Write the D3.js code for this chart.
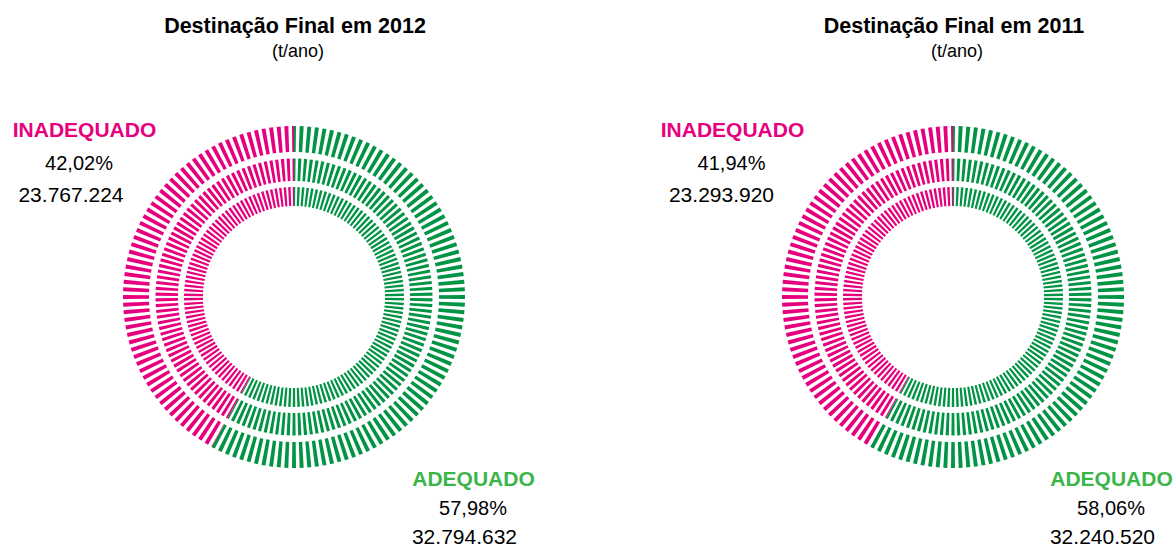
<!DOCTYPE html>
<html>
<head>
<meta charset="utf-8">
<script src="https://cdn.jsdelivr.net/npm/d3@7"></script>
<style>
  html, body { margin: 0; padding: 0; background: #ffffff; }
  svg { display: block; font-family: "Liberation Sans", Arial, Helvetica, sans-serif; }
</style>
</head>
<body>
<svg id="chart" width="1173" height="547"></svg>
<script>
// ---- data ----
const years = ["2012", "2011"];
const categories = ["ADEQUADO", "INADEQUADO"];
const adequadoTons = [32794632, 32240520];
const inadequadoTons = [23767224, 23293920];
const adequadoPct = [57.98, 58.06];
const inadequadoPct = [42.02, 41.94];
const ticksPerRing = [150, 150, 140];

// ---- style / layout ----
const colorScale = d3.scaleOrdinal().domain(categories).range(["#009444", "#e6007e"]);
const labelColor = d3.scaleOrdinal().domain(categories).range(["#3bb54a", "#e6007e"]);
const centersX = [294, 953];
const centerY = 297;
const rings = [
  { inner: 91, outer: 110, duty: 0.55 },
  { inner: 116, outer: 138.5, duty: 0.55 },
  { inner: 145, outer: 171, duty: 0.52 }
];

const pt = d3.formatLocale({ decimal: ",", thousands: ".", grouping: [3], currency: ["R$", ""] });
const fmtInt = pt.format(",d");
const fmtPct = pt.format(".2f");

const svg = d3.select("#chart");
const defs = svg.append("defs");

const pie = d3.pie().sort(null).startAngle(0).endAngle(2 * Math.PI);

years.forEach((yr, k) => {
  const cx = centersX[k];
  const g = svg.append("g").attr("transform", `translate(${cx},${centerY})`);

  // mask of radial ticks
  const mask = defs.append("mask").attr("id", "ticks" + k)
    .attr("maskUnits", "userSpaceOnUse")
    .attr("x", -300).attr("y", -300).attr("width", 600).attr("height", 600);
  rings.forEach((r, ri) => {
    const n = ticksPerRing[ri];
    const angle = d3.scaleLinear().domain([0, n]).range([0, 2 * Math.PI]);
    const half = (angle(1) - angle(0)) * r.duty / 2;
    const tickArc = d3.arc().innerRadius(r.inner).outerRadius(r.outer);
    mask.append("g").selectAll("path")
      .data(d3.range(n))
      .join("path")
      .attr("d", i => tickArc({ startAngle: angle(i) - half, endAngle: angle(i) + half }))
      .attr("fill", "#fff");
  });

  const values = [adequadoTons[k], inadequadoTons[k]];
  const slices = pie(values).map((s, j) => ({ ...s, cat: categories[j] }));
  const ringsG = g.append("g").attr("mask", `url(#ticks${k})`);
  rings.forEach(r => {
    const arc = d3.arc().innerRadius(r.inner - 1).outerRadius(r.outer + 1);
    ringsG.append("g").selectAll("path")
      .data(slices)
      .join("path")
      .attr("d", arc)
      .attr("fill", d => colorScale(d.cat));
  });

  // titles
  svg.append("text").attr("x", cx + 1).attr("y", 33)
    .attr("text-anchor", "middle").attr("font-weight", "bold").attr("font-size", 21.5)
    .attr("fill", "#000").text("Destinação Final em " + yr);
  svg.append("text").attr("x", cx + 4).attr("y", 57)
    .attr("text-anchor", "middle").attr("font-size", 18)
    .attr("fill", "#000").text("(t/ano)");
});

// labels
const inadLabelX = [[84.5, 79, 71], [732.5, 731.5, 721.5]];
const adLabelX = [[473.5, 473, 464.5], [1111.5, 1111, 1102.5]];
years.forEach((yr, k) => {
  const blocks = [
    { cat: "INADEQUADO", xs: inadLabelX[k], ys: [137, 170, 202], pct: inadequadoPct[k], tons: inadequadoTons[k] },
    { cat: "ADEQUADO", xs: adLabelX[k], ys: [486, 515, 544], pct: adequadoPct[k], tons: adequadoTons[k] }
  ];
  blocks.forEach(b => {
    svg.append("text").attr("x", b.xs[0]).attr("y", b.ys[0])
      .attr("text-anchor", "middle").attr("font-weight", "bold").attr("font-size", 21)
      .attr("fill", labelColor(b.cat)).text(b.cat);
    svg.append("text").attr("x", b.xs[1]).attr("y", b.ys[1])
      .attr("text-anchor", "middle").attr("font-size", 20)
      .attr("fill", "#000").text(fmtPct(b.pct) + "%");
    svg.append("text").attr("x", b.xs[2]).attr("y", b.ys[2])
      .attr("text-anchor", "middle").attr("font-size", 21)
      .attr("fill", "#000").text(fmtInt(b.tons));
  });
});
</script>
</body>
</html>
